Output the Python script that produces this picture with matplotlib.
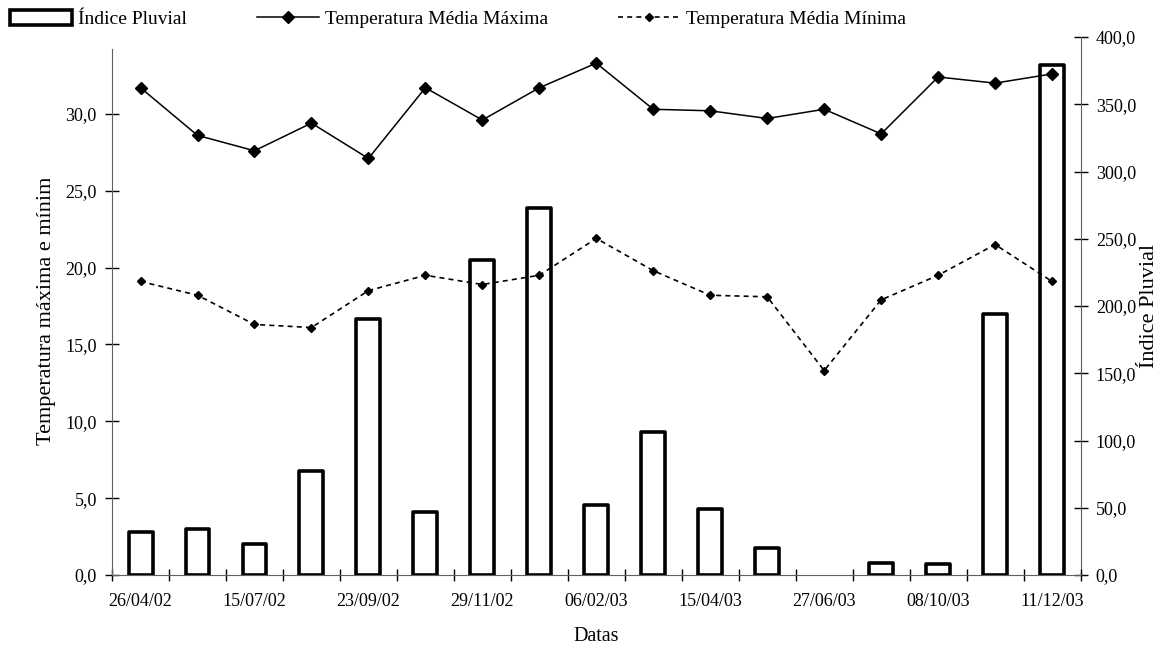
import numpy as np
import matplotlib.pyplot as plt
from matplotlib.ticker import FuncFormatter
from matplotlib.transforms import Bbox, TransformedBbox

plt.rcParams['font.family'] = ['Liberation Serif', 'DejaVu Serif']

# datas das coletas (so as pares recebem rotulo no eixo)
date_labels = ['26/04/02', '15/07/02', '23/09/02', '29/11/02', '06/02/03',
               '15/04/03', '27/06/03', '08/10/03', '11/12/03']

temp_max = [31.7, 28.6, 27.6, 29.4, 27.1, 31.7, 29.6, 31.7, 33.3,
            30.3, 30.2, 29.7, 30.3, 28.7, 32.4, 32.0, 32.6]
temp_min = [19.1, 18.2, 16.3, 16.1, 18.5, 19.5, 18.9, 19.5, 21.9,
            19.8, 18.2, 18.1, 13.3, 17.9, 19.5, 21.5, 19.1]
rain = [32, 34, 23, 77, 190, 47, 234, 273, 52,
        106, 49, 20, 0, 9, 8, 194, 379]

x = np.arange(len(rain))
comma = FuncFormatter(lambda v, pos: f'{v:.1f}'.replace('.', ','))

fig = plt.figure(figsize=(11.66, 6.45), dpi=100)
ax = fig.add_axes([0.0961, 0.1085, 0.8306, 0.8341])
ax2 = ax.twinx()

# barras do indice pluvial no eixo da direita
bars = ax2.bar(x, rain, width=0.42, color='white', edgecolor='black',
               linewidth=[2.6 if v > 0 else 0 for v in rain], joinstyle='round',
               label='Índice Pluvial')
ax2.set_ylim(0, 400)
ax2.set_yticks(np.arange(0, 401, 50))
ax2.yaxis.set_major_formatter(comma)
ax2.set_ylabel('Índice Pluvial', fontsize=16, labelpad=3)

# temperaturas no eixo da esquerda, desenhadas por cima das barras
ax.set_zorder(ax2.get_zorder() + 1)
ax.patch.set_visible(False)
l1, = ax.plot(x, temp_max, color='black', lw=1.1, marker='D', ms=6.5,
              label='Temperatura Média Máxima')
l2, = ax.plot(x, temp_min, color='black', lw=1.2, ls=(0, (3, 2.5)),
              marker='D', ms=4, label='Temperatura Média Mínima')
ax.set_ylim(0, 35)
ax.set_yticks(np.arange(0, 31, 5))
ax.yaxis.set_major_formatter(comma)

ax.set_xlim(-0.5, len(rain) - 0.5)
ax.set_xticks(x[::2])
ax.set_xticklabels(date_labels)
ax.set_xticks(np.arange(-0.5, len(rain)), minor=True)
ax.tick_params(axis='x', which='major', length=0, pad=13, labelsize=13)
ax.tick_params(axis='x', which='minor', length=9, direction='inout', width=1)
ax.tick_params(axis='y', length=10, direction='inout', width=1, pad=6, labelsize=13)
ax2.tick_params(axis='y', length=10, direction='inout', width=1, pad=6, labelsize=13)
ax.set_xlabel('Datas', fontsize=14.5, labelpad=12)

for a in (ax, ax2):
    a.spines['top'].set_visible(False)
    for s in a.spines.values():
        s.set_color('#606060')
ax.spines['right'].set_visible(False)
ax2.spines['left'].set_visible(False)
ax2.spines['bottom'].set_visible(False)
ax.spines['left'].set_bounds(0, 34.2)

# rotulo do eixo esquerdo, cortado no topo
yl = fig.text(0.0395, 0.5255, 'Temperatura máxima e mínima', rotation=90,
              ha='center', va='center', fontsize=16)
yl.set_clip_box(TransformedBbox(Bbox([[0, 0], [1, 0.7225]]), fig.transFigure))
yl.set_clip_on(True)

fig.legend([bars, l1, l2], ['Índice Pluvial', 'Temperatura Média Máxima',
                            'Temperatura Média Mínima'],
           loc='upper left', bbox_to_anchor=(-0.0015, 1.003), ncol=3, frameon=False,
           fontsize=14, handlelength=3.2, handleheight=0.8, handletextpad=0.3,
           columnspacing=3.6, borderaxespad=0.2)

fig.savefig('out.png', dpi=100)
